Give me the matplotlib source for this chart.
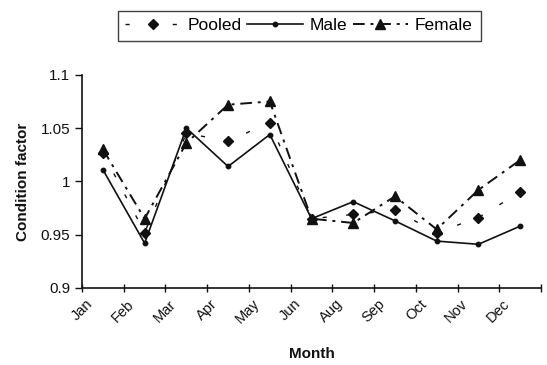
import matplotlib
matplotlib.use("Agg")
import matplotlib.pyplot as plt
import numpy as np

plt.rcParams['font.family'] = ['Liberation Sans', 'DejaVu Sans']

months = ["Jan", "Feb", "Mar", "Apr", "May", "Jun", "Aug", "Sep", "Oct", "Nov", "Dec"]
pooled = [1.027, 0.952, 1.045, 1.038, 1.055, 0.965, 0.969, 0.973, 0.952, 0.966, 0.990]
male = [1.011, 0.942, 1.050, 1.014, 1.044, 0.965, 0.981, 0.963, 0.944, 0.941, 0.958]
female = [1.030, 0.965, 1.036, 1.072, 1.075, 0.965, 0.961, 0.986, 0.955, 0.992, 1.020]
yticks = [0.9, 0.95, 1.0, 1.05, 1.1]
ytick_labels = ["0.9", "0.95", "1", "1.05", "1.1"]

fig = plt.figure(figsize=(5.47, 3.65), dpi=100)
ax = fig.add_axes([0.150, 0.211, 0.839, 0.584])
x = np.arange(len(months))
ink = "#111111"

ax.plot(x, pooled, color=ink, lw=1.0, linestyle=(0, (3, 14)), marker="D", ms=5.5,
        label="Pooled", zorder=3)
ax.plot(x, male, color=ink, lw=1.2, linestyle="-", marker="o", ms=3.2,
        label="Male", zorder=2)
ax.plot(x, female, color=ink, lw=1.4, linestyle=(0, (6, 3, 1.5, 3)), marker="^", ms=7.5,
        label="Female", zorder=4)

ax.set_xlim(-0.5, len(months) - 0.5)
ax.set_ylim(0.9, 1.1)
ax.set_yticks(yticks)
ax.set_yticklabels(ytick_labels)
# category labels, rotated and hung just left of each category centre
ax.set_xticks(x - 0.3)
ax.set_xticklabels(months, rotation=45, ha="right", va="center", rotation_mode="anchor")
ax.set_xticks(np.arange(-0.5, len(months)), minor=True)
ax.tick_params(axis="x", which="major", length=0, labelsize=10.5, pad=10, colors=ink)
ax.tick_params(axis="x", which="minor", length=6, direction="inout", width=1, color=ink)
ax.tick_params(axis="y", which="major", length=5, direction="out", width=1, labelsize=11, colors=ink)

for s in ["top", "right"]:
    ax.spines[s].set_visible(False)
for s in ["left", "bottom"]:
    ax.spines[s].set_color(ink)
    ax.spines[s].set_linewidth(1.2)

ax.set_ylabel("Condition factor", fontsize=11, fontweight="bold", color=ink, labelpad=8)
ax.set_xlabel("Month", fontsize=11, fontweight="bold", color=ink, labelpad=15)

leg = fig.legend(loc="center", bbox_to_anchor=(0.547, 0.929), ncol=3, fontsize=12.5,
                 frameon=True, fancybox=False, edgecolor=ink, handlelength=3.2,
                 handletextpad=0.4, columnspacing=0.3, borderpad=0.45)
leg.get_frame().set_linewidth(1.0)

fig.savefig("out.png", dpi=100, facecolor="white")
